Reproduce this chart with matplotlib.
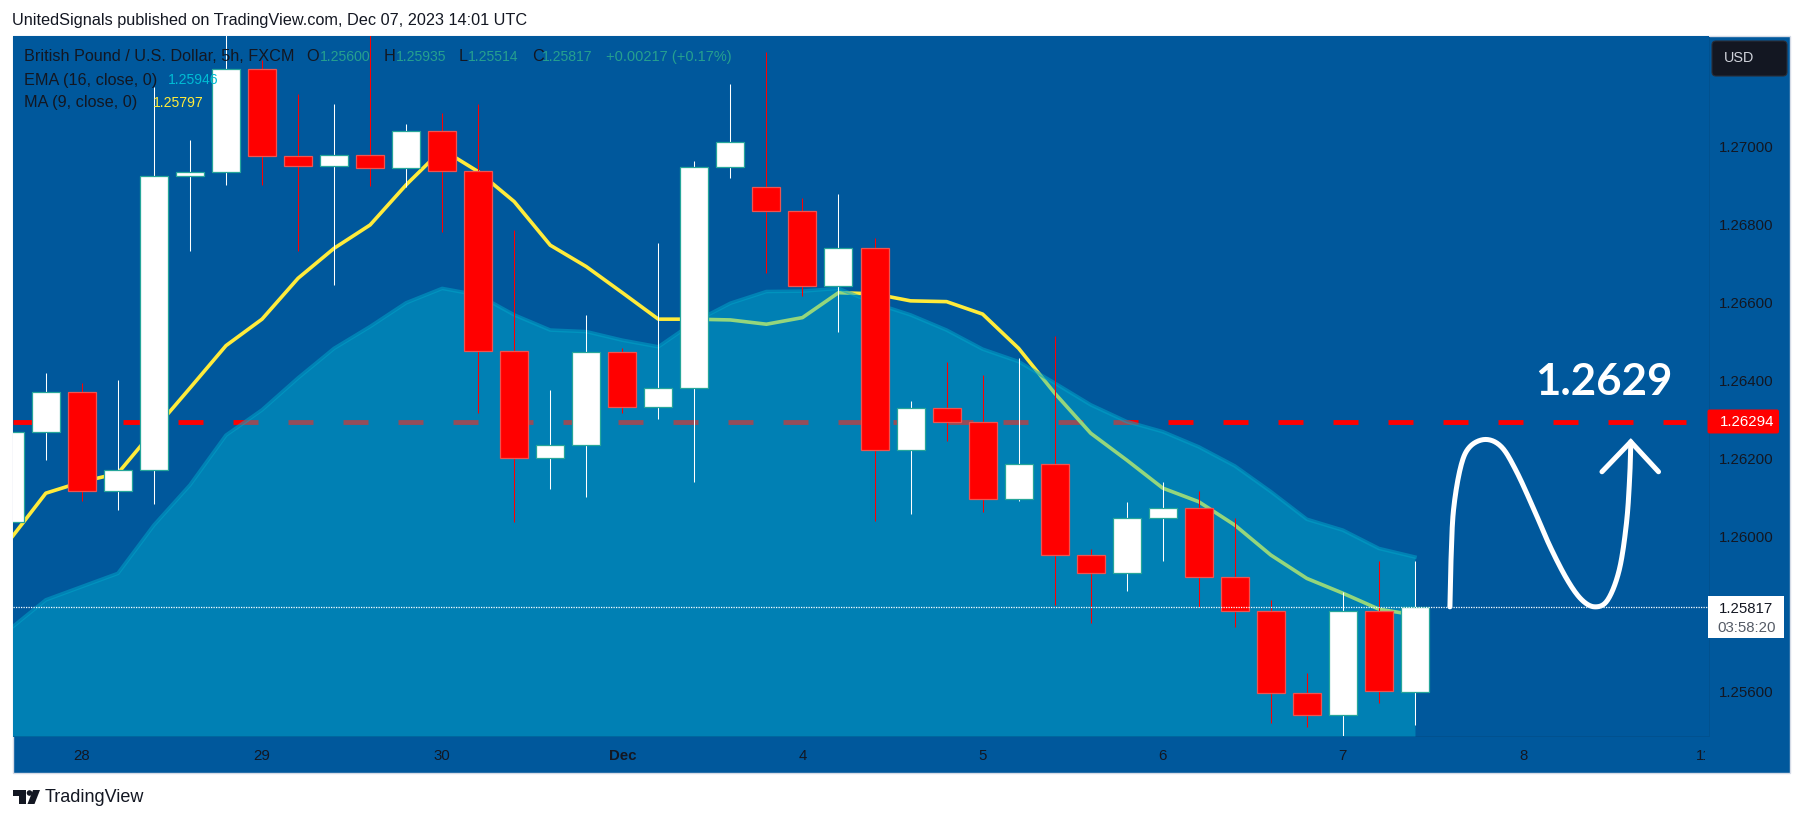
import numpy as np
import matplotlib
matplotlib.use("Agg")
import matplotlib.pyplot as plt
from matplotlib.patches import Rectangle, Polygon, Circle, FancyBboxPatch
from matplotlib.transforms import Bbox

W, H = 1803, 821
FONT = "Liberation Sans"
plt.rcParams["font.family"] = [FONT, "DejaVu Sans"]

opens = [1.26035,1.26266,1.26369,1.26116,1.26169,1.26924,1.26934,1.27199,1.26975,1.26950,
         1.26978,1.26945,1.27040,1.26937,1.26474,1.26200,1.26233,1.26472,1.26332,1.26381,
         1.26947,1.26896,1.26834,1.26641,1.26739,1.26220,1.26328,1.26292,1.26094,1.26184,
         1.25950,1.25904,1.26045,1.26073,1.25894,1.25808,1.25596,1.25539,1.25808,1.25600]
closes = [1.26266,1.26369,1.26116,1.26169,1.26924,1.26934,1.27199,1.26975,1.26950,1.26978,
          1.26945,1.27040,1.26937,1.26474,1.26200,1.26233,1.26472,1.26332,1.26381,1.26947,
          1.27011,1.26834,1.26641,1.26739,1.26220,1.26328,1.26292,1.26094,1.26184,1.25950,
          1.25904,1.26045,1.26073,1.25894,1.25808,1.25596,1.25539,1.25808,1.25601,1.25817]
highs = [1.26300,1.26419,1.26393,1.26401,1.27154,1.27017,1.27330,1.27223,1.27135,1.27110,
         1.27330,1.27058,1.27086,1.27110,1.26786,1.26375,1.26568,1.26483,1.26752,1.26962,
         1.27161,1.27244,1.26867,1.26878,1.26765,1.26347,1.26448,1.26414,1.26456,1.26515,
         1.25966,1.26087,1.26139,1.26115,1.26047,1.25836,1.25649,1.25857,1.25936,1.25935]
lows = [1.26000,1.26195,1.26090,1.26067,1.26082,1.26733,1.26902,1.26902,1.26733,1.26645,
        1.26899,1.26897,1.26782,1.26316,1.26037,1.26121,1.26101,1.26316,1.26301,1.26139,
        1.26920,1.26675,1.26617,1.26525,1.26039,1.26056,1.26245,1.26062,1.26091,1.25823,
        1.25777,1.25859,1.25936,1.25818,1.25767,1.25519,1.25509,1.25480,1.25572,1.25514]
ema16 = [1.25761,1.25836,1.25870,1.25904,1.26028,1.26131,1.26259,1.26324,1.26406,1.26482,
         1.26538,1.26599,1.26636,1.26619,1.26568,1.26529,1.26525,1.26503,1.26486,1.26550,
         1.26598,1.26628,1.26629,1.26636,1.26598,1.26568,1.26529,1.26480,1.26448,1.26393,
         1.26337,1.26294,1.26268,1.26229,1.26180,1.26114,1.26043,1.26015,1.25968,1.25946]
ma9 = [1.25990,1.26110,1.26139,1.26161,1.26272,1.26380,1.26489,1.26557,1.26662,1.26739,
       1.26799,1.26902,1.26993,1.26936,1.26859,1.26747,1.26692,1.26625,1.26557,1.26557,
       1.26555,1.26544,1.26561,1.26625,1.26622,1.26604,1.26602,1.26570,1.26482,1.26367,
       1.26264,1.26195,1.26123,1.26088,1.26028,1.25951,1.25891,1.25853,1.25812,1.25797]

price_ticks = [1.25600, 1.26000, 1.26200, 1.26400, 1.26600, 1.26800, 1.27000]
time_tick_bars = [2, 7, 12, 17, 22, 27, 32, 37, 42, 47]
time_tick_labels = ["28", "29", "30", "Dec", "4", "5", "6", "7", "8", "11"]

resistance = 1.26294
last_price = 1.25817
curve_bars = [39.97,40.00,40.07,40.27,40.52,40.96,41.40,41.80,42.27,42.75,43.23,43.63,44.00,44.35,44.67,44.87,44.96,44.99]
curve_prices = [1.25818,1.25938,1.26067,1.26178,1.26229,1.26248,1.26229,1.26169,1.26075,1.25973,1.25887,1.25836,1.25818,1.25836,1.25913,1.26033,1.26152,1.26242]
arrow_bars = [44.19, 44.99, 45.76]
arrow_prices = [1.26165, 1.26242, 1.26165]

BLUE = "#00589c"
GREEN_TXT = "#26a08f"
DARK = "#131722"

fig = plt.figure(figsize=(W / 100, H / 100), dpi=100, facecolor="white")

def rect(l, t, r, b):
    return [l / W, 1 - b / H, (r - l) / W, (b - t) / H]

bg = fig.add_axes([0, 0, 1, 1], zorder=0)
bg.set_xlim(0, W); bg.set_ylim(H, 0); bg.axis("off")
bg.add_patch(Rectangle((12.5, 36.5), 1777, 737, fc=BLUE, ec="#d5dbe6", lw=1))

L, T, R, B = 13, 36.5, 1709, 736
ax = fig.add_axes(rect(L, T, R, B), zorder=1, facecolor=BLUE)
x0, step = 9.8, 36.03
ax.set_xlim((L - x0) / step, (R - x0) / step)
ytop = 1.27 + (146.7 - T) / 38930
ybot = 1.27 - (B - 146.7) / 38930
ax.set_ylim(ybot, ytop)
for s in ax.spines.values():
    s.set_visible(False)
for side in ("right", "bottom"):
    ax.spines[side].set_visible(True)
    ax.spines[side].set_color("#02518f")
    ax.spines[side].set_linewidth(0.7)

bars = np.arange(len(opens))
o, c, h, l = map(np.array, (opens, closes, highs, lows))
up = c >= o

ax.plot([ax.get_xlim()[0], 46.53], [resistance, resistance], color="#ff0000", lw=3.5,
        dashes=(25 * 0.72 / 3.5, 30 * 0.72 / 3.5), dash_capstyle="butt", zorder=1)
ax.plot(bars, ma9, color="#ffeb3b", lw=2.6, zorder=2)
ax.fill_between(bars, ema16, ybot, color="#00b9d7", alpha=0.42, lw=0, zorder=3)
ax.plot(bars, ema16, color="#00a3c8", alpha=0.55, lw=2.6, zorder=3.1)

w1 = ax.vlines(bars[up], l[up], h[up], color="white", lw=0.75, zorder=4)
w2 = ax.vlines(bars[~up], l[~up], h[~up], color="#ff0000", lw=0.75, zorder=4)
w1.set_snap(True); w2.set_snap(True)
bw = 28 / step
ax.bar(bars[up], (c - o)[up], bottom=o[up], width=bw, color="white", edgecolor="#26a69a", lw=0.9, zorder=5)
ax.bar(bars[~up], (c - o)[~up], bottom=o[~up], width=bw, color="#ff0000", edgecolor="#ef5350", lw=0.9, zorder=5)

ax.axhline(last_price, color="white", lw=0.9, ls=(0, (1, 1)), zorder=6)

cb, cp = np.array(curve_bars), np.array(curve_prices)
def catmull(xs, ys, n=14):
    px = np.r_[xs[0], xs, xs[-1]]; py = np.r_[ys[0], ys, ys[-1]]
    t = np.linspace(0, 1, n, endpoint=False)[:, None]
    def seg(p):
        p0, p1, p2, p3 = p[:-3, None], p[1:-2, None], p[2:-1, None], p[3:, None]
        return 0.5 * (2*p1 + (p2-p0)*t.T + (2*p0-5*p1+4*p2-p3)*t.T**2 + (3*p1-p0-3*p2+p3)*t.T**3).ravel()
    return np.r_[seg(px), xs[-1]], np.r_[seg(py), ys[-1]]
sx, sy = catmull(cb, cp)
ax.plot(sx, sy, color="white", lw=3.6, solid_capstyle="round", zorder=7)
ax.plot(arrow_bars, arrow_prices, color="white", lw=3.6, solid_capstyle="round", solid_joinstyle="miter", zorder=7)

ax.set_yticks(price_ticks)
ax.set_yticklabels([f"{p:.5f}" for p in price_ticks])
ax.yaxis.tick_right()
ax.tick_params(axis="y", length=0, pad=7.2, labelsize=10.8, labelcolor=DARK)
ax.set_xticks(time_tick_bars)
ax.set_xticklabels(time_tick_labels)
ax.tick_params(axis="x", length=0, pad=9, labelsize=10.8, labelcolor=DARK)
for lab, txt in zip(ax.get_xticklabels(), time_tick_labels):
    if txt == "Dec":
        lab.set_fontweight("bold")
    if txt == "11":
        lab.set_clip_box(Bbox([[0, 0], [R - 4, H]]))
        lab.set_clip_on(True)

ax.text(44.23, 1.26395, "1.2629", color="white", fontsize=31.5, fontweight="bold",
        ha="center", va="center", zorder=8, family="Lato")

ov = fig.add_axes([0, 0, 1, 1], zorder=5)
ov.set_xlim(0, W); ov.set_ylim(H, 0); ov.axis("off"); ov.patch.set_alpha(0)

ov.text(12, 20.7, "UnitedSignals published on TradingView.com, Dec 07, 2023 14:01 UTC",
        fontsize=11.7, color=DARK, va="center")

FS_LABEL, FS_VALUE = 11.7, 10.1
def leg(x, y, s, col=DARK, fs=FS_LABEL):
    ov.text(x, y, s, fontsize=fs, color=col, va="center")
y1, y2, y3 = 56.7, 80, 103
leg(24, y1, "British Pound / U.S. Dollar, 5h, FXCM")
leg(306, y1, "O"); leg(320, y1, "1.25600", GREEN_TXT, FS_VALUE)
leg(384, y1, "H"); leg(396, y1, "1.25935", GREEN_TXT, FS_VALUE)
leg(459, y1, "L"); leg(468, y1, "1.25514", GREEN_TXT, FS_VALUE)
leg(532, y1, "C"); leg(542, y1, "1.25817", GREEN_TXT, FS_VALUE)
leg(606, y1, "+0.00217 (+0.17%)", GREEN_TXT, 10.5)
leg(24, y2, "EMA (16, close, 0)"); leg(168, y2, "1.25946", "#00bcd4", FS_VALUE)
leg(24, y3, "MA (9, close, 0)"); leg(153, y3, "1.25797", "#ffeb3b", FS_VALUE)

ov.add_patch(FancyBboxPatch((1714, 43), 71, 31, boxstyle="round,pad=2,rounding_size=4",
                            fc="#131722", ec="#2a2e39", lw=0.8))
ov.text(1724, 58.5, "USD", fontsize=10.4, color="#d1d4dc", va="center")

ov.add_patch(FancyBboxPatch((1709, 411), 68.5, 21, boxstyle="round,pad=1.5,rounding_size=2",
                            fc="#ff0000", ec="none"))
ov.text(1720, 422, f"{resistance:.5f}", color="white", fontsize=10.8, va="center")
ov.add_patch(Rectangle((1707.5, 596), 76.5, 42, fc="white", ec="none"))
ov.text(1719, 609, f"{last_price:.5f}", color=DARK, fontsize=10.8, va="center")
ov.text(1717, 628, "03:58:20", color="#555b66", fontsize=10.8, va="center")

ov.add_patch(Polygon([(13, 790), (26, 790), (26, 804), (19, 804), (19, 796), (13, 796)], fc="#131722", ec="none"))
ov.add_patch(Circle((29.5, 793), 2.8, fc="#131722", ec="none"))
ov.add_patch(Polygon([(33, 790), (40, 790), (34.5, 804), (27.5, 804)], fc="#131722", ec="none"))
ov.text(44.5, 797.5, "TradingView", fontsize=13, color="#131722", va="center")

fig.savefig("out.png", dpi=100, facecolor="white")
